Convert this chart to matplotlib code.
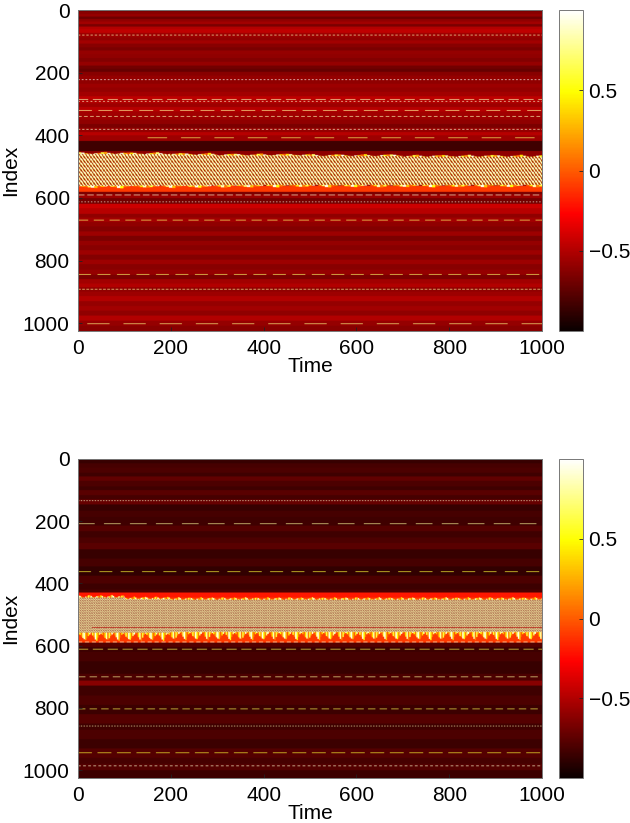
import numpy as np
import matplotlib
matplotlib.use('Agg')
import matplotlib.pyplot as plt

plt.rcParams['font.family'] = ['Liberation Sans', 'DejaVu Sans']

# Values. The picture's cell data cannot be read one by one,
# so rows are given as stripes and the oscillating band as a repeated small tile.
time_ticks = [0, 200, 400, 600, 800, 1000]
index_ticks = [0, 200, 400, 600, 800, 1000]
cbar_ticks = [-0.5, 0, 0.5]
cbar_labels = ['\u22120.5', '0', '0.5']

# stripes: row where each stripe ends, and its level
top_stripe_ends = [8, 16, 24, 32, 40, 48, 56, 64, 76, 90, 100, 110, 122, 132, 144, 156, 168, 180, 190, 200, 212,
                   224, 238, 250, 264, 278, 286, 300, 312, 326, 338, 352, 366, 378, 392, 402, 420, 452, 563, 582,
                   590, 602, 620, 634, 652, 664, 678, 692, 708, 722, 738, 752, 768, 782, 798, 812, 830, 846, 860,
                   874, 886, 900, 914, 930, 946, 960, 976, 992, 1008, 1025]
top_stripe_vals = [-0.68, -0.62, -0.58, -0.7, -0.6, -0.54, -0.66, -0.5, -0.46, -0.56, -0.6, -0.54, -0.62, -0.66,
                   -0.58, -0.6, -0.64, -0.58, -0.68, -0.72, -0.62, -0.58, -0.6, -0.56, -0.58, -0.54, -0.46, -0.5,
                   -0.56, -0.48, -0.54, -0.56, -0.6, -0.66, -0.58, -0.48, -0.56, -0.84, -0.6, -0.1, -0.66, -0.56,
                   -0.68, -0.42, -0.48, -0.6, -0.54, -0.6, -0.64, -0.56, -0.66, -0.58, -0.62, -0.56, -0.64, -0.56,
                   -0.62, -0.58, -0.66, -0.54, -0.5, -0.6, -0.56, -0.5, -0.58, -0.54, -0.6, -0.5, -0.58, -0.62]
bot_stripe_ends = [14, 28, 44, 56, 70, 88, 100, 116, 130, 146, 166, 186, 214, 232, 252, 270, 290, 320, 345, 375, 400,
                   420, 429, 445, 590, 604, 620, 650, 690, 712, 728, 760, 790, 820, 850, 870, 900, 930, 960, 980,
                   1000, 1025]
bot_stripe_vals = [-0.86, -0.82, -0.8, -0.84, -0.74, -0.8, -0.84, -0.76, -0.82, -0.72, -0.86, -0.82, -0.84, -0.78,
                   -0.84, -0.8, -0.76, -0.86, -0.82, -0.88, -0.8, -0.85, -0.8, -0.2, -0.1, -0.78, -0.85, -0.82,
                   -0.86, -0.8, -0.62, -0.84, -0.8, -0.85, -0.78, -0.84, -0.8, -0.85, -0.78, -0.82, -0.78, -0.85]

# dashed rows: row, dash length, gap length, first time, level
top_lines_row = [83, 225, 288, 294, 323, 342, 383, 410, 592, 614, 672, 845, 892, 1002]
top_lines_on = [5, 4, 22, 4, 30, 8, 5, 42, 14, 3, 22, 28, 6, 48]
top_lines_off = [4, 4, 10, 5, 14, 5, 4, 30, 6, 4, 12, 14, 3, 30]
top_lines_start = [0, 0, 0, 0, 0, 0, 0, 150, 0, 0, 0, 0, 0, 20]
top_lines_val = [0.85, 0.98, 0.85, 0.9, 0.8, 0.85, 0.9, 0.7, 0.9, 0.95, 0.7, 0.7, 0.8, 0.75]

bot_lines_row = [134, 208, 362, 541, 588, 611, 700, 803, 858, 944, 986]
bot_lines_on = [3, 36, 28, 970, 9, 22, 16, 16, 3, 30, 6]
bot_lines_off = [3, 20, 18, 1, 6, 10, 9, 9, 3, 12, 5]
bot_lines_start = [0, 0, 0, 30, 0, 0, 0, 0, 0, 0, 0]
bot_lines_val = [0.9, 0.8, 0.6, -0.5, 0.9, 0.65, 0.8, 0.65, 0.85, 0.6, 0.9]

# upper and lower edge of the oscillating band, one value per 100 time steps
edge_times = [0, 100, 200, 300, 400, 500, 600, 700, 800, 900]
top_band_upper = [461, 462, 464, 466, 466, 468, 468, 470, 470, 470]
top_band_lower = [563, 562, 562, 561, 560, 560, 560, 560, 560, 560]
bot_band_upper = [445, 450, 452, 452, 452, 452, 452, 452, 452, 452]
bot_band_lower = [558, 558, 556, 556, 556, 556, 556, 556, 556, 556]

# tiles: one repeat of the band's pattern, and of the flecks along its rims
top_tile = [[0.95, 0.85, -0.5, -0.7, 0.7, 0.95, 0.9],
            [0.9, 0.95, 0.6, -0.7, -0.5, 0.85, 0.95],
            [0.8, 0.95, 0.9, 0.3, -0.7, 0.3, 0.9],
            [-0.5, 0.85, 0.95, 0.85, -0.5, -0.7, 0.7],
            [-0.7, 0.5, 0.9, 0.95, 0.7, -0.7, -0.4],
            [-0.5, -0.5, 0.7, 0.95, 0.9, 0.5, -0.7],
            [0.6, -0.7, -0.4, 0.85, 0.95, 0.85, -0.5]]
bot_tile = [[0.85, -0.7, 0.85, 0.85, -0.7],
            [0.85, 0.85, -0.7, 0.85, 0.85],
            [-0.7, 0.85, 0.85, -0.7, 0.85],
            [0.85, -0.7, 0.85, 0.85, -0.7]]
fleck_vals = [0.95, 0.5, 0.1, 0.7, 0.95, 0.3, 0.0, 0.4, 0.85, 0.1, 0.6, 0.2]
fleck_depth = [3, 7, 12, 16, 20, 22, 17, 11, 6, 2, 9, 14, 21, 24, 15, 7]


def build_field(stripe_ends, stripe_vals, lines, upper, lower, tile, row_rep, rim_up, rim_low, fleck_step):
    field = np.zeros((1025, 1000))
    start = 0
    for end, val in zip(stripe_ends, stripe_vals):
        field[start:end, :] = val
        start = end

    row_list, on_list, off_list, start_list, val_list = lines
    for row, on, off, first, val in zip(row_list, on_list, off_list, start_list, val_list):
        t = np.arange(first, 1000)
        dash = t[(t - first) % (on + off) < on]
        field[row - 1:row + 1, dash] = val

    tile = np.repeat(np.array(tile), row_rep, axis=0)
    tiled = np.tile(tile, (1025 // len(tile) + 1, 1000 // len(tile[0]) + 1))
    for i, t0 in enumerate(edge_times):
        for t in range(t0, t0 + 100):
            k = t // fleck_step
            low_depth = fleck_depth[k % len(fleck_depth)] * rim_low // 24
            up_depth = fleck_depth[(k + 5) % len(fleck_depth)] * rim_up // 24
            v_low = fleck_vals[k % len(fleck_vals)]
            v_up = fleck_vals[(k + 3) % len(fleck_vals)]
            field[upper[i]:lower[i], t] = tiled[upper[i]:lower[i], t]
            field[upper[i] - up_depth:upper[i], t] = v_up
            field[lower[i]:lower[i] + low_depth, t] = v_low

    # the dark line through the lower band has to stay on top of it
    for row, first, val in zip(row_list, start_list, val_list):
        if val < 0:
            field[row - 1:row + 1, first:] = val
    return field


top_field = build_field(top_stripe_ends, top_stripe_vals,
                        (top_lines_row, top_lines_on, top_lines_off, top_lines_start, top_lines_val),
                        top_band_upper, top_band_lower, top_tile, 2, 6, 8, 7)
bot_field = build_field(bot_stripe_ends, bot_stripe_vals,
                        (bot_lines_row, bot_lines_on, bot_lines_off, bot_lines_start, bot_lines_val),
                        bot_band_upper, bot_band_lower, bot_tile, 2, 8, 26, 3)

W, H = 630.0, 823.0
fig = plt.figure(figsize=(6.3, 8.23), dpi=100)


def panel(field, y0, y1):
    ax = fig.add_axes([78 / W, 1 - y1 / H, 464 / W, (y1 - y0) / H])
    im = ax.imshow(field, cmap='hot', vmin=-1, vmax=1, aspect='auto',
                   extent=(0, 1000, 1025, 0), interpolation='hanning', interpolation_stage='rgba')
    ax.set_xticks(time_ticks)
    ax.set_yticks(index_ticks)
    ax.tick_params(direction='in', length=3, width=0.6, labelsize=15, color='#222222', pad=6)
    ax.set_xlabel('Time', fontsize=15, labelpad=-1)
    ax.set_ylabel('Index', fontsize=15, labelpad=2)
    for s in ax.spines.values():
        s.set_color('#777777')
        s.set_linewidth(0.7)

    cax = fig.add_axes([559 / W, 1 - y1 / H, 24 / W, (y1 - y0) / H])
    cb = fig.colorbar(im, cax=cax)
    cb.set_ticks(cbar_ticks)
    cb.set_ticklabels(cbar_labels)
    cb.ax.tick_params(direction='in', length=3, width=0.6, labelsize=15, pad=4, color='#222222')
    cb.outline.set_edgecolor('#777777')
    cb.outline.set_linewidth(0.7)


panel(top_field, 10, 331)
panel(bot_field, 459, 778)

fig.savefig('out.png', dpi=100)
